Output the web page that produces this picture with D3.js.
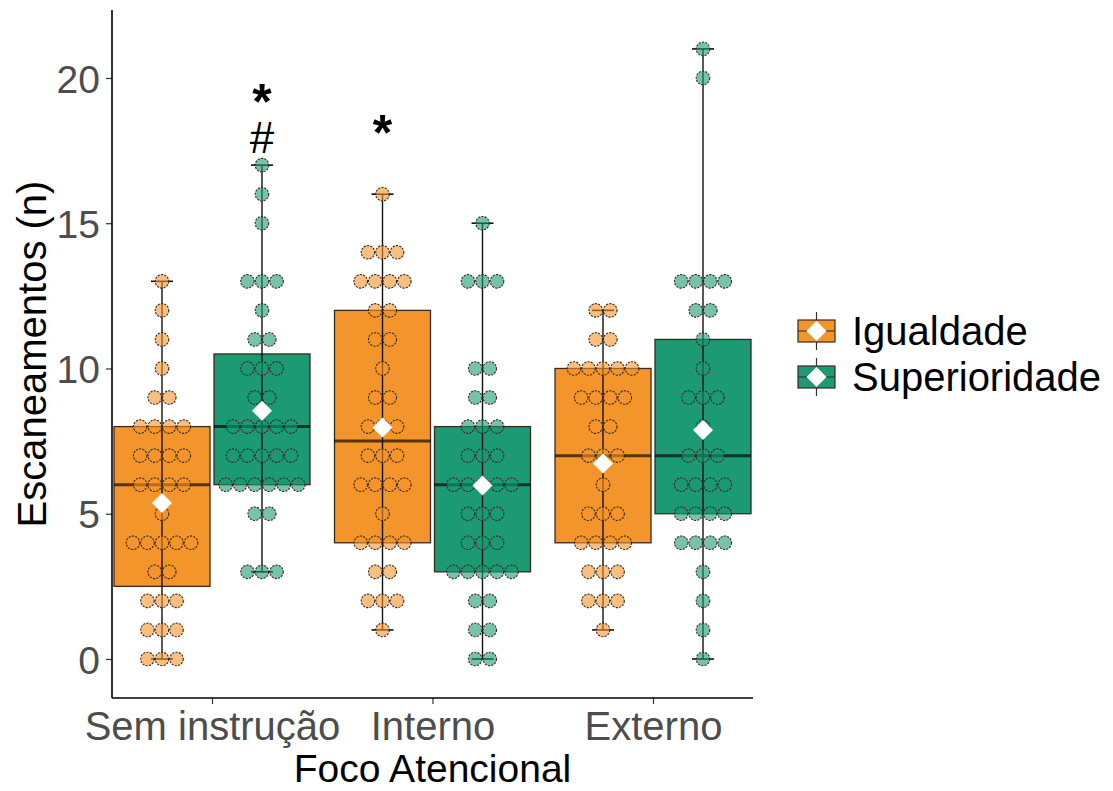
<!DOCTYPE html>
<html>
<head>
<meta charset="utf-8">
<script src="https://cdn.jsdelivr.net/npm/d3@7"></script>
<style>
  body { margin: 0; background: #fff; }
  svg text { font-family: "Liberation Sans", Arial, sans-serif; }
</style>
</head>
<body>
<div id="chart"></div>
<script>
// Categories and groups
var categories = ["Sem instrução", "Interno", "Externo"];
var groups = ["Igualdade", "Superioridade"];
var yTicks = [0, 5, 10, 15, 20];

var semIgualdade = [0,0,0,1,1,1,2,2,2,3,3,4,4,4,4,4,5,6,6,6,6,7,7,7,7,8,8,8,8,9,9,10,11,12,13];
var semSuperioridade = [3,3,3,5,5,6,6,6,6,6,6,7,7,7,7,7,8,8,8,8,8,9,9,10,10,10,11,11,12,13,13,13,15,16,17];
var intIgualdade = [1,2,2,2,3,3,4,4,4,4,5,6,6,6,6,7,7,7,8,8,8,9,9,10,11,11,12,12,13,13,13,13,14,14,14,16];
var intSuperioridade = [0,0,1,1,2,2,3,3,3,3,3,4,4,4,5,5,5,6,6,6,6,6,7,7,7,8,8,8,9,9,10,10,13,13,13,15];
var extIgualdade = [1,2,2,2,3,3,3,4,4,4,4,5,5,5,6,7,7,7,8,8,9,9,9,9,10,10,10,10,10,11,11,12,12];
var extSuperioridade = [0,1,2,3,4,4,4,4,5,5,5,5,6,6,6,6,7,7,7,8,9,9,9,10,11,12,12,13,13,13,13,20,21];

// Significance marks: [category, group, label, y value]
var marks = [
    ["Sem instrução", "Superioridade", "*", 19.65],
    ["Sem instrução", "Superioridade", "#", 17.95],
    ["Interno", "Igualdade", "*", 18.6]
];

var colors = {"Igualdade": "#F4952C", "Superioridade": "#1B9A74"};

var series = [
    {cat: "Sem instrução", grp: "Igualdade", values: semIgualdade},
    {cat: "Sem instrução", grp: "Superioridade", values: semSuperioridade},
    {cat: "Interno", grp: "Igualdade", values: intIgualdade},
    {cat: "Interno", grp: "Superioridade", values: intSuperioridade},
    {cat: "Externo", grp: "Igualdade", values: extIgualdade},
    {cat: "Externo", grp: "Superioridade", values: extSuperioridade}
];

var W = 1113, H = 791;
var panel = {left: 112, right: 753, top: 10, bottom: 698};

var svg = d3.select("#chart").append("svg")
    .attr("width", W)
    .attr("height", H);

var x = d3.scalePoint()
    .domain(categories)
    .range([panel.left, panel.right])
    .padding(0.4535);

var sub = d3.scaleBand()
    .domain(groups)
    .range([-98, 98])
    .paddingInner(0.04);

var y = d3.scaleLinear()
    .domain([-1.343, 22.34])
    .range([panel.bottom, panel.top]);

var dotR = (y(0) - y(0.5)) / 2;
var bw = sub.bandwidth();

function cx(d) { return x(d.cat) + sub(d.grp) + bw / 2; }

// summary stats (R type 7 quantiles == d3.quantile)
series.forEach(function (s) {
    var v = s.values.slice().sort(d3.ascending);
    s.q1 = d3.quantile(v, 0.25);
    s.med = d3.quantile(v, 0.5);
    s.q3 = d3.quantile(v, 0.75);
    s.min = d3.min(v);
    s.max = d3.max(v);
    s.mean = d3.mean(v);
});

// Axes
var yAxis = d3.axisLeft(y).tickValues(yTicks).tickSize(6).tickPadding(6);
var gy = svg.append("g")
    .attr("transform", "translate(" + panel.left + ",0)")
    .call(yAxis);
gy.select(".domain").remove();
gy.append("line")
    .attr("x1", 0).attr("x2", 0)
    .attr("y1", panel.top).attr("y2", panel.bottom)
    .attr("stroke", "#000").attr("stroke-width", 1.6);
gy.selectAll(".tick line").attr("stroke", "#333").attr("stroke-width", 1.2);
gy.selectAll(".tick text")
    .attr("fill", "#4D4D4D")
    .style("font-size", "39px")
    .attr("dy", "0.36em");

var xAxis = d3.axisBottom(x).tickSize(6).tickPadding(8);
var gx = svg.append("g")
    .attr("transform", "translate(0," + panel.bottom + ")")
    .call(xAxis);
gx.select(".domain").remove();
gx.append("line")
    .attr("x1", panel.left).attr("x2", panel.right)
    .attr("y1", 0).attr("y2", 0)
    .attr("stroke", "#000").attr("stroke-width", 1.6);
gx.selectAll(".tick line").attr("stroke", "#333").attr("stroke-width", 1.2);
gx.selectAll(".tick text")
    .attr("fill", "#4D4D4D")
    .style("font-size", "40px")
    .attr("dy", "0.71em");

// Axis titles
svg.append("text")
    .attr("x", (panel.left + panel.right) / 2)
    .attr("y", 782)
    .attr("text-anchor", "middle")
    .style("font-size", "39px")
    .text("Foco Atencional");

svg.append("text")
    .attr("transform", "translate(46," + ((panel.top + panel.bottom) / 2) + ") rotate(-90)")
    .attr("text-anchor", "middle")
    .style("font-size", "40px")
    .text("Escaneamentos (n)");

var plot = svg.append("g");

// Boxes
plot.selectAll("rect.box")
    .data(series)
    .enter()
    .append("rect")
    .attr("class", "box")
    .attr("x", function (d) { return x(d.cat) + sub(d.grp); })
    .attr("width", bw)
    .attr("y", function (d) { return y(d.q3); })
    .attr("height", function (d) { return y(d.q1) - y(d.q3); })
    .attr("fill", function (d) { return colors[d.grp]; })
    .attr("stroke", "#3a2a1c")
    .attr("stroke-width", 1.3);

// Median lines
plot.selectAll("line.med")
    .data(series)
    .enter()
    .append("line")
    .attr("x1", function (d) { return x(d.cat) + sub(d.grp); })
    .attr("x2", function (d) { return x(d.cat) + sub(d.grp) + bw; })
    .attr("y1", function (d) { return y(d.med); })
    .attr("y2", function (d) { return y(d.med); })
    .attr("stroke", "#000")
    .attr("stroke-opacity", 0.65)
    .attr("stroke-width", 3);

// Whisker line (min to max) and end caps
plot.selectAll("line.whisk")
    .data(series)
    .enter()
    .append("line")
    .attr("x1", cx).attr("x2", cx)
    .attr("y1", function (d) { return y(d.min); })
    .attr("y2", function (d) { return y(d.max); })
    .attr("stroke", "#111")
    .attr("stroke-width", 1.4);

["min", "max"].forEach(function (k) {
    plot.selectAll("line.cap-" + k)
        .data(series)
        .enter()
        .append("line")
        .attr("x1", function (d) { return cx(d) - 11; })
        .attr("x2", function (d) { return cx(d) + 11; })
        .attr("y1", function (d) { return y(d[k]); })
        .attr("y2", function (d) { return y(d[k]); })
        .attr("stroke", "#111")
        .attr("stroke-width", 1.6);
});

// Dots (centered stacking per value)
var dots = [];
series.forEach(function (s) {
    var counts = d3.rollup(s.values, function (v) { return v.length; }, function (v) { return v; });
    counts.forEach(function (n, val) {
        for (var i = 0; i < n; i++) {
            dots.push({cat: s.cat, grp: s.grp, value: val, off: i - (n - 1) / 2});
        }
    });
});

plot.selectAll("circle.dot")
    .data(dots)
    .enter()
    .append("circle")
    .attr("cx", function (d) { return cx(d) + d.off * dotR * 2; })
    .attr("cy", function (d) { return y(d.value); })
    .attr("r", dotR - 0.5)
    .attr("fill", function (d) { return colors[d.grp]; })
    .attr("fill-opacity", 0.6)
    .attr("stroke", "#3a2a1c")
    .attr("stroke-width", 1.1)
    .attr("stroke-dasharray", "2.2,1.2");

// Mean diamonds
function diamond(s) { return "M0," + (-s) + "L" + s + ",0L0," + s + "L" + (-s) + ",0Z"; }

plot.selectAll("path.mean")
    .data(series)
    .enter()
    .append("path")
    .attr("transform", function (d) { return "translate(" + cx(d) + "," + y(d.mean) + ")"; })
    .attr("d", diamond(10))
    .attr("fill", "#fff");

// Significance marks
plot.selectAll("text.sig")
    .data(marks)
    .enter()
    .append("text")
    .attr("x", function (d) { return x(d[0]) + sub(d[1]) + bw / 2; })
    .attr("y", function (d) { return y(d[3]); })
    .attr("text-anchor", "middle")
    .attr("dy", function (d) { return d[2] === "*" ? "0.62em" : "0.36em"; })
    .style("font-size", function (d) { return d[2] === "*" ? "50px" : "44px"; })
    .style("font-weight", function (d) { return d[2] === "*" ? "bold" : "normal"; })
    .text(function (d) { return d[2]; });

// Legend
var legend = svg.append("g").attr("transform", "translate(798,331)");
var items = legend.selectAll("g.item")
    .data(groups)
    .enter()
    .append("g")
    .attr("transform", function (d, i) { return "translate(0," + (i * 46) + ")"; });

items.append("line")
    .attr("x1", 18.5).attr("x2", 18.5)
    .attr("y1", -19).attr("y2", 19)
    .attr("stroke", "#333").attr("stroke-width", 1.2);
items.append("rect")
    .attr("x", 0).attr("y", -11)
    .attr("width", 37).attr("height", 22)
    .attr("fill", function (d) { return colors[d]; })
    .attr("stroke", "#3a2a1c").attr("stroke-width", 1.2);
items.append("line")
    .attr("x1", 0).attr("x2", 37)
    .attr("y1", 0).attr("y2", 0)
    .attr("stroke", "#3a2a1c").attr("stroke-width", 1.2);
items.append("path")
    .attr("transform", "translate(18.5,0)")
    .attr("d", diamond(10))
    .attr("fill", "#fff");
items.append("text")
    .attr("x", 54)
    .attr("y", 0)
    .attr("dy", "0.36em")
    .style("font-size", "40px")
    .text(function (d) { return d; });
</script>
</body>
</html>
